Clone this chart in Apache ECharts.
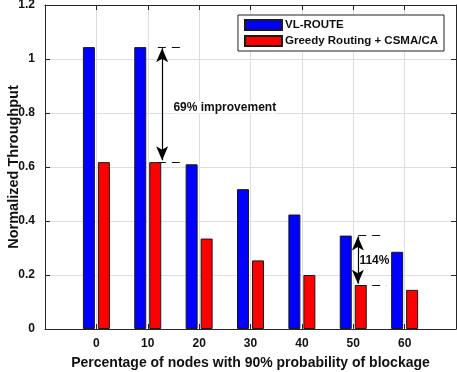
<!DOCTYPE html>
<html>
<head>
<meta charset="utf-8">
<script src="https://cdn.jsdelivr.net/npm/echarts@6/dist/echarts.min.js"></script>
<style>
  html, body { margin: 0; padding: 0; background: #fff; }
  #chart { width: 457px; height: 372px; }
</style>
</head>
<body>
<div id="chart"></div>
<script>
// blockage percentage (x positions)
const blockage = [0, 10, 20, 30, 40, 50, 60]
// normalized throughput
const vlRoute = [1.044, 1.044, 0.61, 0.518, 0.424, 0.346, 0.286]
const greedy = [0.618, 0.618, 0.335, 0.254, 0.2, 0.163, 0.145]

// annotation arrows: [x, yTop, yBottom]
const arrows = [[12.8, 1.04, 0.625], [50.9, 0.343, 0.168]]
// dashed reference lines: [xStart, xEnd, y]
const dashes = [[10.5, 15.3, 1.044], [10.5, 15.3, 0.618], [49.5, 54.4, 0.346], [49.5, 55.0, 0.163]]
// annotation texts: [x, y, text]
const notes = [[15.0, 0.82, '69% improvement'], [51.2, 0.254, '114%']]

const font = 'Liberation Sans, Arial, Helvetica, sans-serif'
const chart = echarts.init(document.getElementById('chart'))

const lineData = arrows.map(a => [{ coord: [a[0], a[1]] }, { coord: [a[0], a[2]] }])
const dashData = dashes.map(d => [{ coord: [d[0], d[2]] }, { coord: [d[1], d[2]] }])

chart.setOption({
  animation: false,
  textStyle: { fontFamily: font },
  grid: { left: 45, right: 1, top: 5, bottom: 43, containLabel: false, outerBoundsMode: 'none' },
  legend: {
    orient: 'vertical',
    right: 13,
    top: 15,
    padding: [4, 6, 4, 6],
    itemGap: 4,
    itemWidth: 37,
    itemHeight: 10,
    borderColor: '#222',
    borderWidth: 1,
    backgroundColor: '#fff',
    icon: 'rect',
    textStyle: { fontWeight: 'bold', fontSize: 11.5, color: '#111', padding: [0, 0, 0, -2] },
    data: ['VL-ROUTE', 'Greedy Routing + CSMA/CA']
  },
  xAxis: [{
    type: 'value',
    min: -10,
    max: 70,
    interval: 10,
    name: 'Percentage of nodes with 90% probability of blockage',
    nameLocation: 'middle',
    nameGap: 27,
    nameMoveOverlap: false,
    nameTextStyle: { fontWeight: 'bold', fontSize: 14, color: '#111' },
    axisLine: { onZero: false, lineStyle: { color: '#262626' } },
    axisTick: { inside: true, length: 5, lineStyle: { color: '#262626' } },
    axisLabel: {
      fontWeight: 'bold', fontSize: 12, color: '#111', margin: 9,
      formatter: v => (v < 0 || v > 60) ? '' : String(v)
    },
    splitLine: { show: true, lineStyle: { color: '#dedede' } }
  }, {
    type: 'value',
    position: 'top',
    min: -10,
    max: 70,
    interval: 10,
    axisLine: { onZero: false, lineStyle: { color: '#262626' } },
    axisTick: { inside: true, length: 5, lineStyle: { color: '#262626' } },
    axisLabel: { show: false },
    splitLine: { show: false }
  }],
  yAxis: [{
    type: 'value',
    min: 0,
    max: 1.2,
    interval: 0.2,
    name: 'Normalized Throughput',
    nameLocation: 'middle',
    nameGap: 24,
    nameMoveOverlap: false,
    nameTextStyle: { fontWeight: 'bold', fontSize: 14.5, color: '#111' },
    axisLine: { show: true, onZero: false, lineStyle: { color: '#262626' } },
    axisTick: { show: true, inside: true, length: 5, lineStyle: { color: '#262626' } },
    axisLabel: { fontWeight: 'bold', fontSize: 12, color: '#111', margin: 10 },
    splitLine: { show: true, lineStyle: { color: '#dedede' } }
  }, {
    type: 'value',
    position: 'right',
    min: 0,
    max: 1.2,
    interval: 0.2,
    axisLine: { show: true, onZero: false, lineStyle: { color: '#262626' } },
    axisTick: { show: true, inside: true, length: 5, lineStyle: { color: '#262626' } },
    axisLabel: { show: false },
    splitLine: { show: false }
  }],
  series: [
    {
      name: 'VL-ROUTE',
      type: 'bar',
      barWidth: 12,
      barGap: '25%',
      itemStyle: { color: '#0000ff', borderColor: '#1a1a1a', borderWidth: 1 },
      data: blockage.map((x, i) => [x, vlRoute[i]])
    },
    {
      name: 'Greedy Routing + CSMA/CA',
      type: 'bar',
      barWidth: 12,
      barGap: '25%',
      itemStyle: { color: '#ff0000', borderColor: '#1a1a1a', borderWidth: 1 },
      data: blockage.map((x, i) => [x, greedy[i]]),
      markLine: {
        silent: true,
        symbol: 'none',
        label: { show: false },
        lineStyle: { color: '#111', type: [8, 6], width: 1 },
        data: dashData
      }
    },
    {
      name: 'annotations',
      type: 'line',
      data: [],
      markLine: {
        silent: true,
        symbol: ['arrow', 'arrow'],
        symbolSize: [9, 14],
        label: { show: false },
        lineStyle: { color: '#000', type: 'solid', width: 1.2 },
        data: lineData
      },
      markPoint: {
        silent: true,
        symbol: 'rect',
        symbolSize: 0,
        label: {
          show: true,
          position: 'right',
          distance: 0,
          fontWeight: 'bold',
          fontSize: 12,
          color: '#111',
          backgroundColor: '#fff',
          formatter: p => p.name
        },
        data: notes.map(n => ({ name: n[2], coord: [n[0], n[1]] }))
      }
    }
  ]
})
</script>
</body>
</html>
